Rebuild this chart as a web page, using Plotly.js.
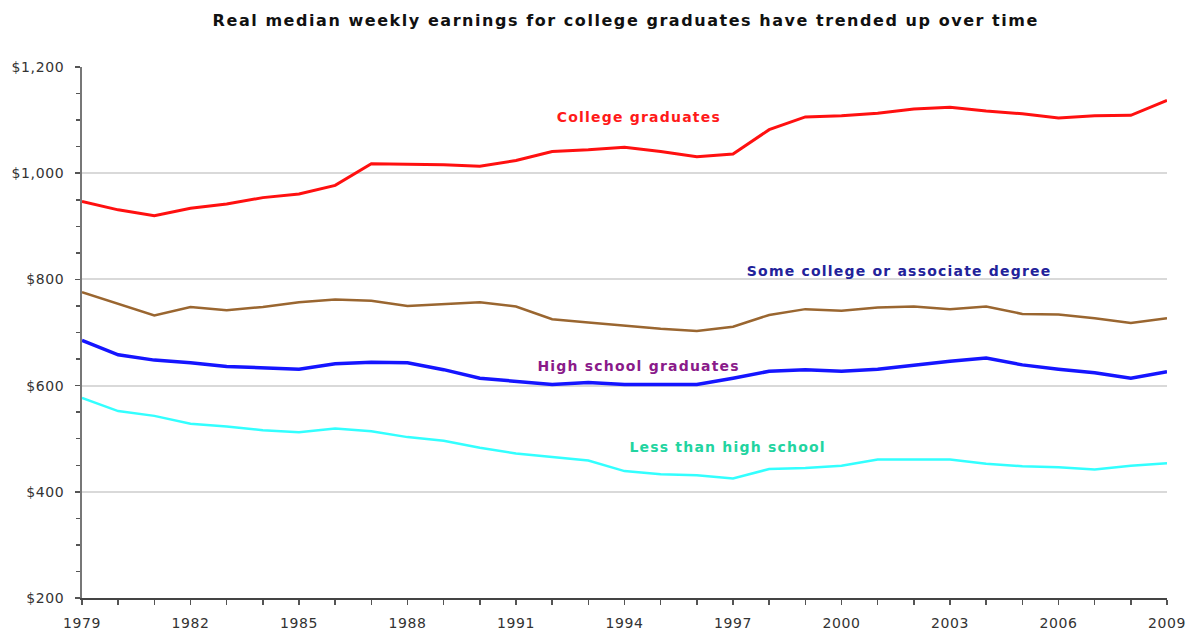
<!DOCTYPE html>
<html>
<head>
<meta charset="utf-8">
<script src="https://cdn.plot.ly/plotly-3.0.1.min.js"></script>
<style>
html,body{margin:0;padding:0;background:#fff;}
#chart{width:1192px;height:634px;}
#chart .gtitle{letter-spacing:1.55px;}
#chart .annotation-text{letter-spacing:1.2px;}
#chart .xtick text,#chart .ytick text{letter-spacing:0.6px;}
</style>
</head>
<body>
<div id="chart"></div>
<script>
const years = [1979,1980,1981,1982,1983,1984,1985,1986,1987,1988,1989,1990,1991,1992,1993,1994,1995,1996,1997,1998,1999,2000,2001,2002,2003,2004,2005,2006,2007,2008,2009];
const collegeGraduates = [947,931,920,934,942,954,961,977,1018,1017,1016,1013,1024,1041,1044,1049,1041,1031,1036,1082,1106,1108,1113,1121,1124,1117,1112,1104,1108,1109,1137];
const someCollege = [776,754,732,748,742,748,757,762,760,750,754,757,749,725,719,713,707,703,711,733,744,741,747,749,744,749,735,734,727,718,727];
const highSchool = [685,658,648,643,636,634,631,641,644,643,630,614,608,602,606,602,602,602,614,627,630,627,631,639,646,652,639,631,624,614,626];
const lessThanHighSchool = [577,552,543,528,523,516,512,519,514,503,496,483,472,466,459,439,433,431,425,443,445,449,461,461,461,453,448,446,442,449,454];

const seriesNames = ["College graduates","Some college or associate degree","High school graduates","Less than high school"];
const yTickVals = [200,400,600,800,1000,1200];
const yTickText = ["$200","$400","$600","$800","$1,000","$1,200"];
const xTickVals = [1979,1982,1985,1988,1991,1994,1997,2000,2003,2006,2009];

const font = "DejaVu Sans, Verdana, sans-serif";

const traces = [
  {x: years, y: collegeGraduates, name: seriesNames[0], mode: "lines", line: {color: "#ff1010", width: 3}},
  {x: years, y: someCollege, name: seriesNames[1], mode: "lines", line: {color: "#9a6630", width: 2.5}},
  {x: years, y: highSchool, name: seriesNames[2], mode: "lines", line: {color: "#1515ff", width: 3.5}},
  {x: years, y: lessThanHighSchool, name: seriesNames[3], mode: "lines", line: {color: "#33ffff", width: 2.5}}
];

const layout = {
  width: 1192, height: 634,
  margin: {l: 82, r: 25, t: 67, b: 36},
  paper_bgcolor: "#ffffff", plot_bgcolor: "#ffffff",
  showlegend: false,
  title: {text: "<b>Real median weekly earnings for college graduates have trended up over time</b>",
          font: {family: font, size: 16, color: "#111"}, x: 0.525, xanchor: "center", y: 0.968, yanchor: "middle"},
  xaxis: {range: [1979, 2009], tickvals: xTickVals, ticktext: xTickVals.map(String),
          showgrid: false, zeroline: false, showline: true, linecolor: "#444", linewidth: 2,
          ticks: "outside", ticklen: 5, tickcolor: "#555", tickwidth: 1.5, ticklabelstandoff: 6,
          minor: {dtick: 1, tick0: 1979, ticks: "outside", ticklen: 5, tickcolor: "#555", tickwidth: 1.5, showgrid: false},
          tickfont: {family: font, size: 14, color: "#333"}},
  yaxis: {range: [200, 1200], tickvals: yTickVals, ticktext: yTickText,
          showgrid: true, gridcolor: "#d9d9d9", gridwidth: 2, zeroline: false,
          showline: true, linecolor: "#777", linewidth: 2,
          ticks: "outside", ticklen: 5, tickcolor: "#555", tickwidth: 1.5, ticklabelstandoff: 8,
          minor: {dtick: 50, tick0: 200, ticks: "outside", ticklen: 4, tickcolor: "#555", tickwidth: 1.5, showgrid: false},
          tickfont: {family: font, size: 14, color: "#333"}},
  annotations: [
    {text: "<b>College graduates</b>", x: 1994.4, y: 1106, xref: "x", yref: "y", showarrow: false, font: {family: font, size: 14, color: "#ff1a1a"}},
    {text: "<b>Some college or associate degree</b>", x: 2001.6, y: 816, xref: "x", yref: "y", showarrow: false, font: {family: font, size: 14, color: "#22229a"}},
    {text: "<b>High school graduates</b>", x: 1994.4, y: 636, xref: "x", yref: "y", showarrow: false, font: {family: font, size: 14, color: "#8a1a8a"}},
    {text: "<b>Less than high school</b>", x: 1996.85, y: 485, xref: "x", yref: "y", showarrow: false, font: {family: font, size: 14, color: "#22d4a0"}}
  ]
};

Plotly.newPlot("chart", traces, layout, {staticPlot: true, displayModeBar: false});
</script>
</body>
</html>
